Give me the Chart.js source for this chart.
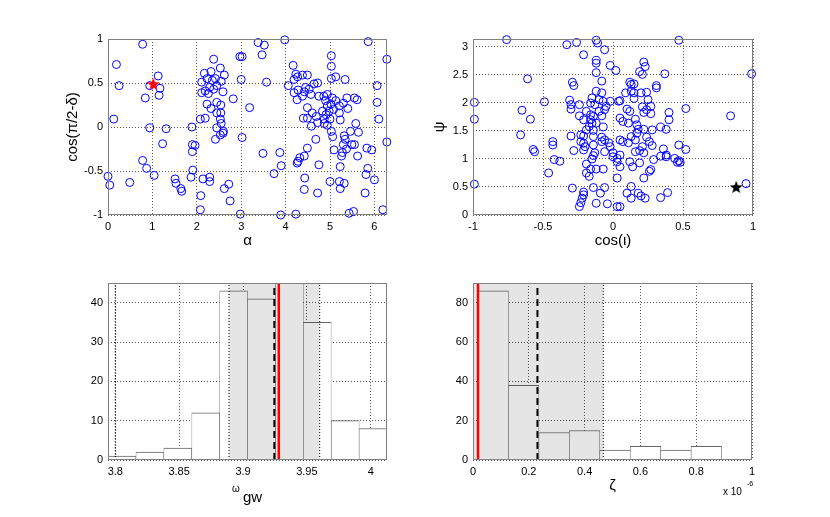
<!DOCTYPE html>
<html><head><meta charset="utf-8">
<script src="https://cdn.jsdelivr.net/npm/chart.js@4.4.1/dist/chart.umd.min.js"></script>
<style>
html,body{margin:0;padding:0;background:#fff;}
#wrap{position:relative;width:830px;height:517px;overflow:hidden;background:#fff;font-family:'Liberation Sans',Arial,Helvetica,sans-serif;}
#wrap canvas{position:absolute;left:0;top:0;}
.lbl{position:absolute;white-space:nowrap;color:#000;line-height:1;}
</style></head><body>
<div id="wrap">
<canvas id="cTL" width="830" height="517"></canvas>
<canvas id="cTR" width="830" height="517"></canvas>
<canvas id="cBL" width="830" height="517"></canvas>
<canvas id="cBR" width="830" height="517"></canvas>
<div class="lbl" style="left:232px;top:484px;font-size:10px;">ω</div>
<div class="lbl" style="left:243px;top:489px;font-size:15px;">gw</div>
<div class="lbl" style="left:723px;top:487px;font-size:10px;">x 10</div>
<div class="lbl" style="left:747px;top:480px;font-size:7px;">-6</div>
</div>
<script>
// ---------- data: top-left scatter (alpha vs cos(pi/2-delta)) ----------
const alphaVals = [0.78,0.19,0.25,1.13,0.94,1.17,1.15,0.84,0.13,0.94,1.31,1.23,0.78,0.87,1.04,0.00,0.04,0.49,1.51,1.53,1.64,1.66,1.89,1.90,1.96,1.90,1.91,1.87,2.14,2.29,2.29,2.09,2.08,2.08,2.19,
2.38,2.17,2.32,2.53,2.62,2.42,2.35,2.23,2.11,2.19,2.29,2.45,2.55,2.59,2.11,2.26,2.38,2.23,2.32,2.45,2.54,2.45,2.54,2.53,2.55,2.45,2.60,2.53,2.42,2.59,2.82,2.97,3.02,3.00,3.02,3.19,2.72,2.62,2.75,2.98,
3.38,3.52,3.47,3.57,3.49,3.74,3.87,3.90,3.89,3.98,4.23,4.06,4.17,4.23,4.27,4.19,4.38,4.49,4.28,4.19,4.26,4.38,4.45,4.42,4.57,4.53,4.64,4.72,4.49,4.60,4.40,4.49,4.69,4.58,4.72,4.75,4.83,4.68,4.49,4.32,4.28,4.42,4.26,4.43,4.42,4.72,4.75,
5.03,5.03,5.03,5.13,5.34,4.86,4.94,4.90,5.05,4.94,5.02,4.98,4.91,5.08,5.13,5.21,4.87,5.00,4.94,4.87,5.21,5.23,5.30,5.38,5.40,5.55,5.61,5.58,5.46,5.64,5.03,5.06,5.09,5.32,5.34,5.30,5.37,5.28,5.26,5.23,5.49,5.55,5.62,5.83,5.94,5.85,5.81,5.79,
5.00,5.21,5.32,5.23,5.43,5.53,5.86,6.06,6.06,6.10,6.28,6.28,6.00,6.19];
const cosDeltaVals = [0.94,0.71,0.47,0.58,0.47,0.44,0.36,0.33,0.09,-0.01,-0.02,-0.19,-0.38,-0.47,-0.55,-0.56,-0.66,-0.63,-0.59,-0.64,-0.70,-0.73,0.00,-0.20,-0.21,-0.28,-0.49,-0.57,-0.59,-0.57,-0.62,-0.78,-0.94,0.09,0.10,
0.77,0.61,0.63,0.67,0.59,0.55,0.53,0.55,0.51,0.41,0.45,0.47,0.52,0.40,0.39,0.38,0.43,0.26,0.21,0.28,0.25,0.16,0.16,0.09,0.04,-0.01,-0.05,-0.09,-0.14,-0.07,0.32,0.80,0.80,0.54,-0.12,0.22,-0.65,-0.70,-0.84,-0.99,
0.96,0.93,0.82,0.51,-0.30,-0.53,-0.29,-0.44,-1.00,0.99,-0.99,0.47,0.70,0.60,0.57,0.54,0.59,0.59,0.42,0.39,0.31,0.35,0.45,0.40,0.37,0.43,0.49,0.50,0.22,0.16,0.10,0.10,0.12,0.01,0.05,0.35,0.18,-0.14,-0.24,-0.35,-0.39,-0.33,-0.41,-0.58,-0.71,-0.75,-0.43,
0.81,0.69,0.55,0.57,0.54,0.35,0.37,0.30,0.33,0.24,0.26,0.18,0.14,0.20,0.30,0.24,0.09,0.09,0.02,0.04,0.16,0.08,0.27,0.33,0.21,0.33,0.31,0.04,-0.05,-0.06,-0.05,-0.11,-0.26,-0.10,-0.14,-0.20,-0.25,-0.29,-0.33,-0.45,-0.20,-0.20,-0.33,-0.24,-0.26,-0.47,-0.54,-0.75,
-0.62,-0.62,-0.64,-0.70,-0.98,-0.96,0.97,0.47,0.28,0.09,-0.17,0.77,-0.60,-0.94];
const trueAlpha = 1.02, trueCosDelta = 0.49;

// ---------- data: top-right scatter (cos(iota) vs psi) ----------
const cosIotaVals = [-0.76,-0.33,-0.26,-0.12,-0.11,-0.06,0.47,-0.21,-0.12,-0.12,-0.02,0.02,-0.12,-0.08,-0.61,-0.29,-0.28,0.22,0.23,0.19,0.21,0.37,0.12,0.13,0.15,0.31,0.31,-0.12,-0.08,0.13,0.15,0.09,0.20,0.24,0.15,-0.31,-0.49,-0.15,-0.10,-0.07,-0.02,0.04,0.05,-0.99,-0.30,-0.24,-0.16,-0.13,-0.05,0.25,
0.27,0.21,0.10,0.12,0.22,0.24,0.52,0.40,-0.30,-0.65,-0.10,-0.06,-0.19,-0.16,-0.24,-0.14,-0.08,0.27,0.84,-0.99,-0.59,-0.21,-0.16,-0.15,-0.17,-0.12,0.05,0.07,0.11,0.16,0.17,0.18,0.22,0.28,0.34,0.38,0.40,-0.19,-0.14,-0.07,-0.23,-0.21,-0.30,-0.66,-0.43,-0.43,-0.23,-0.21,-0.14,-0.08,
-0.08,-0.06,-0.03,0.13,0.16,0.24,0.26,0.07,0.05,0.11,0.17,0.21,0.28,-0.14,-0.02,-0.20,-0.21,-0.57,-0.56,-0.28,-0.13,-0.06,0.00,0.05,0.16,0.19,0.22,0.36,0.47,0.52,0.00,0.03,-0.14,-0.15,-0.42,-0.38,0.03,0.05,0.12,0.19,0.29,0.34,0.38,0.38,0.44,0.46,0.47,0.48,-0.19,-0.16,
-0.12,-0.07,-0.19,-0.17,-0.46,0.14,0.27,0.26,0.22,0.03,-0.99,-0.29,-0.14,-0.06,0.13,-0.21,-0.21,-0.22,-0.09,0.10,0.18,0.20,0.23,0.39,0.34,0.13,-0.23,-0.24,-0.12,-0.04,0.03,0.05,0.95,0.99];
const psiVals = [3.13,3.04,3.08,3.12,3.07,2.95,3.12,2.86,2.76,2.71,2.67,2.58,2.54,2.39,2.43,2.37,2.31,2.73,2.65,2.56,2.51,2.52,2.37,2.33,2.34,2.31,2.27,2.21,2.18,2.21,2.18,2.18,2.18,2.19,2.08,2.05,2.02,2.09,2.06,2.03,2.03,2.03,2.04,2.01,1.97,1.97,2.00,1.97,1.94,2.06,
1.94,1.93,1.89,1.85,1.83,1.88,1.90,1.83,1.89,1.87,1.85,1.88,1.85,1.79,1.77,1.76,1.77,1.81,1.77,1.71,1.71,1.70,1.70,1.64,1.58,1.64,1.73,1.67,1.64,1.71,1.61,1.53,1.53,1.52,1.57,1.53,1.70,1.52,1.51,1.57,1.43,1.41,1.41,1.43,1.31,1.25,1.31,1.28,1.40,1.39,
1.31,1.34,1.29,1.40,1.34,1.39,1.31,1.31,1.34,1.29,1.46,1.22,1.24,1.25,1.22,1.22,1.16,1.17,1.13,1.15,1.11,1.13,1.11,1.07,1.13,1.15,1.11,1.18,1.25,1.17,1.04,1.01,1.06,1.00,0.99,0.96,0.95,0.86,0.95,0.93,0.99,1.05,1.07,1.04,1.01,0.94,0.97,0.94,0.91,0.82,
0.82,0.82,0.75,0.69,0.75,0.86,0.81,0.78,0.66,0.66,0.55,0.48,0.49,0.49,0.51,0.41,0.36,0.30,0.39,0.39,0.39,0.34,0.30,0.40,0.31,0.30,0.22,0.15,0.21,0.20,0.15,0.15,0.56,2.52];
const trueCosIota = 0.88, truePsi = 0.50;

// ---------- data: bottom-left histogram (omega_gw) ----------
const omegaBinCenters = [3.8052,3.8271,3.8489,3.8708,3.8926,3.9144,3.9363,3.9581,3.9800,4.0018];
const omegaCounts = [1,2,3,12,43,41,48,35,10,8];
const omegaInterval = [3.889, 3.960];
const omegaMedian = 3.9245;
const omegaTrue = 3.928;
const omegaMarker = 3.8;
const omegaRange = [3.7943, 4.0127];

// ---------- data: bottom-right histogram (zeta, x 1e-6) ----------
const zetaBinCenters = [0.0726,0.1817,0.2908,0.3999,0.5090,0.6181,0.7272,0.8363,0.9454];
const zetaCounts = [86,38,14,15,5,7,5,7,0];
const zetaInterval = [0, 0.467];
const zetaMedian = 0.231;
const zetaTrue = 0.018;

// ---------- tick settings ----------
const tlXTicks = {min:0, max:2*Math.PI, step:1};
const tlYTicks = {min:-1, max:1, step:0.5};
const trXTicks = {min:-1, max:1, step:0.5};
const trYTicks = {min:0, max:Math.PI, step:0.5};
const blYTicks = {min:0, max:45, step:10};
const blXStep = 0.05;
const brXTicks = {min:0, max:1, step:0.2};
const brYTicks = {min:0, max:90, step:20};

// ---------- layout / style ----------
const FONT = "'Liberation Sans', Arial, Helvetica, sans-serif";
const YW = 45, XH = 40;
const areas = {
  TL:{l:108,t:39,r:387,b:215},
  TR:{l:473,t:39,r:753,b:215},
  BL:{l:108,t:283,r:387,b:460},
  BR:{l:473,t:283,r:752,b:460}
};
const fmt = v => String(+Number(v).toFixed(6));

const boxPlugin = {
  id:'boxPlugin',
  afterDraw(chart){
    const a = chart.chartArea, ctx = chart.ctx;
    ctx.save();
    ctx.strokeStyle = '#808080';
    ctx.lineWidth = 1;
    ctx.strokeRect(Math.round(a.left)+0.5, Math.round(a.top)+0.5, Math.round(a.right)-Math.round(a.left)-1, Math.round(a.bottom)-Math.round(a.top)-1);
    ctx.restore();
  }
};

function axis(horizontal, t, title, titlePad){
  return {
    type:'linear', min:t.min, max:t.max, offset:false,
    ticks:{stepSize:t.step, includeBounds:false, autoSkip:false, maxRotation:0, minRotation:0,
      color:'#000', font:{family:FONT, size:11}, padding:5, callback:v=>fmt(v)},
    grid:{color:'#5a5a5a', lineWidth:1, drawTicks:false, offset:false},
    border:{display:false, dash:[1,2]},
    title:{display:!!title, text:title||'', color:'#000', font:{family:FONT, size:15}, padding: titlePad||{top:0,bottom:5}},
    afterFit(s){ if (horizontal) s.height = XH; else s.width = YW; }
  };
}

function baseOptions(area, xs, ys){
  return {
    responsive:false, animation:false, devicePixelRatio:1, events:[],
    layout:{padding:{left:area.l-YW, top:area.t, right:830-area.r, bottom:517-area.b-XH}},
    plugins:{legend:{display:false}, tooltip:{enabled:false}},
    scales:{x:xs, y:ys}
  };
}

function makeStar(color, R){
  const c = document.createElement('canvas');
  const s = Math.ceil(2*R+2);
  c.width = s; c.height = s;
  const g = c.getContext('2d');
  g.translate(s/2, s/2 + R*0.08);
  g.beginPath();
  for (let i=0;i<10;i++){
    const r = i%2===0 ? R : R*0.42;
    const ang = -Math.PI/2 + i*Math.PI/5;
    g.lineTo(r*Math.cos(ang), r*Math.sin(ang));
  }
  g.closePath();
  g.fillStyle = color; g.fill();
  return c;
}

function circles(xs, ys){
  return {data: xs.map((x,i)=>({x, y:ys[i]})), pointStyle:'circle', pointRadius:4, borderColor:'#0000ff', pointBorderColor:'#0000ff', backgroundColor:'rgba(0,0,0,0)', pointBackgroundColor:'rgba(0,0,0,0)', borderWidth:1, pointBorderWidth:1, showLine:false, clip:false, order:2};
}

// top-left
new Chart(document.getElementById('cTL'), {
  type:'scatter',
  data:{datasets:[
    circles(alphaVals, cosDeltaVals),
    {data:[{x:trueAlpha, y:trueCosDelta}], pointStyle:makeStar('#ff0000', 6.8), pointRadius:7, showLine:false, clip:false, order:1}
  ]},
  options: baseOptions(areas.TL, axis(true, tlXTicks, 'α'), axis(false, tlYTicks, 'cos(π/2-δ)', {top:1,bottom:0})),
  plugins:[boxPlugin]
});

// top-right
new Chart(document.getElementById('cTR'), {
  type:'scatter',
  data:{datasets:[
    circles(cosIotaVals, psiVals),
    {data:[{x:trueCosIota, y:truePsi}], pointStyle:makeStar('#000000', 6.8), pointRadius:7, showLine:false, clip:false, order:1}
  ]},
  options: baseOptions(areas.TR, axis(true, trXTicks, 'cos(ι)'), axis(false, trYTicks, 'ψ', {top:3,bottom:0})),
  plugins:[boxPlugin]
});

function vline(x, ymax, color, width, dash, order){
  return {type:'line', data:[{x, y:0},{x, y:ymax}], borderColor:color, borderWidth:width, borderDash:dash, pointRadius:0, fill:false, order, clip:0};
}
function band(range, ymax, order){
  return {type:'line', data:[{x:range[0], y:ymax},{x:range[1], y:ymax}], borderWidth:0, borderColor:'rgba(0,0,0,0)', pointRadius:0, fill:'origin', backgroundColor:'rgba(0,0,0,0.1)', order};
}
function bars(centers, counts){
  return {type:'bar', data: centers.map((x,i)=>({x, y:counts[i]})), backgroundColor:'#ffffff', borderColor:'#666666', borderWidth:{top:1, left:0.6, right:0.6, bottom:0}, borderSkipped:false, barPercentage:1, categoryPercentage:1, order:10};
}

// bottom-left
new Chart(document.getElementById('cBL'), {
  type:'bar',
  data:{datasets:[
    bars(omegaBinCenters, omegaCounts),
    band(omegaInterval, blYTicks.max, 6),
    vline(omegaMarker, blYTicks.max, '#000', 1, [1,2], 5),
    vline(omegaInterval[0], blYTicks.max, '#000', 1, [1,2], 5),
    vline(omegaInterval[1], blYTicks.max, '#000', 1, [1,2], 5),
    vline(omegaMedian, blYTicks.max, '#000', 2, [7,4], 4),
    vline(omegaTrue, blYTicks.max, '#ff0000', 2.5, [], 3)
  ]},
  options: baseOptions(areas.BL, axis(true, {min:omegaRange[0], max:omegaRange[1], step:blXStep}, ''), axis(false, blYTicks, '')),
  plugins:[boxPlugin]
});

// bottom-right
new Chart(document.getElementById('cBR'), {
  type:'bar',
  data:{datasets:[
    bars(zetaBinCenters, zetaCounts),
    band(zetaInterval, brYTicks.max, 6),
    vline(zetaInterval[1], brYTicks.max, '#000', 1, [1,2], 5),
    vline(zetaMedian, brYTicks.max, '#000', 2, [7,4], 4),
    vline(zetaTrue, brYTicks.max, '#ff0000', 2.5, [], 3)
  ]},
  options: baseOptions(areas.BR, axis(true, brXTicks, 'ζ'), axis(false, brYTicks, '')),
  plugins:[boxPlugin]
});
</script>
</body></html>
